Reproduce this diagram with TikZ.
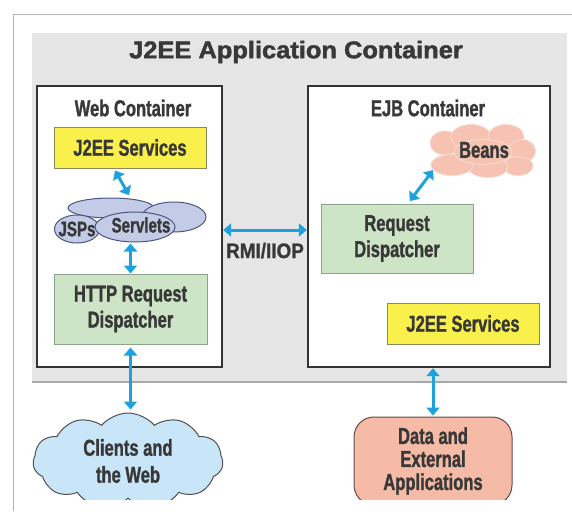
\documentclass[tikz,border=0pt]{standalone}
\usepackage{fontspec}
\setmainfont{Liberation Sans}
\newfontfamily\narrowfont[FakeStretch=0.72,FakeBold=1.2]{Liberation Sans}
\newfontfamily\widefont[FakeStretch=1.06,FakeBold=1.8]{Liberation Sans}
\newfontfamily\midfont[FakeStretch=0.9,FakeBold=1]{Liberation Sans}
\usepackage{xcolor}
\usepackage{tikz}
\usetikzlibrary{positioning,arrows.meta,shapes.geometric,shapes.symbols}

\definecolor{inkgray}{HTML}{383838}
\definecolor{panelgray}{HTML}{E6E6E6}
\definecolor{rulegray}{HTML}{A8A8A8}
\definecolor{framegray}{HTML}{B4B4B4}
\definecolor{boxline}{HTML}{333333}
\definecolor{svcyellow}{HTML}{FAF04C}
\definecolor{svcline}{HTML}{8C8A5A}
\definecolor{dispgreen}{HTML}{CDE5C6}
\definecolor{displine}{HTML}{8BA38A}
\definecolor{complav}{HTML}{C4CBE7}
\definecolor{compline}{HTML}{4C5680}
\definecolor{beanpink}{HTML}{F6C2B2}
\definecolor{cloudblue}{HTML}{C8E6F8}
\definecolor{cloudline}{HTML}{505050}
\definecolor{datasalmon}{HTML}{F5BBA6}
\definecolor{dataline}{HTML}{5E4C4A}
\definecolor{linkblue}{HTML}{1DA1DF}

\begin{document}
\begin{tikzpicture}[x=1pt,y=-1pt,>={Triangle[length=8pt,width=13pt]},text=inkgray,
    font=\narrowfont\bfseries\fontsize{23}{26}\selectfont]
  \tikzstyle{container}=[draw=boxline,line width=2.4pt,fill=white]
  \tikzstyle{service}=[draw=svcline,line width=1pt,fill=svcyellow,minimum width=152pt,minimum height=41pt,inner sep=0pt]
  \tikzstyle{dispatch}=[draw=displine,line width=1pt,fill=dispgreen,minimum width=153pt,minimum height=70pt,inner sep=0pt,align=center]
  \tikzstyle{comp}=[ellipse,draw=compline,line width=1pt,fill=complav,inner sep=0pt]
  \tikzstyle{bean}=[ellipse,draw=white!40!beanpink,line width=0.8pt,fill=beanpink,inner sep=0pt]
  \tikzstyle{link}=[<->,draw=linkblue,line width=3pt]
  \tikzstyle{small}=[font=\narrowfont\bfseries\fontsize{21}{24}\selectfont]

  \useasboundingbox (0,0) rectangle (572,511);

  % page frame and application container
  \draw[line width=0.8pt,draw=framegray] (13,511) -- (13,14) -- (572,14);
  \fill[panelgray] (32,33) rectangle (567,382);
  \draw[line width=1.6pt,draw=rulegray] (32,382) -- (567,382);
  \node[font=\widefont\bfseries\fontsize{24}{28}\selectfont] (title) at (296,52) {J2EE Application Container};

  \node[container,minimum width=185pt,minimum height=281pt] (web) at (129.5,226.5) {};
  \node[container,minimum width=242pt,minimum height=281pt] (ejb) at (429,226.5) {};
  \node (webtitle) at (133,108) {Web Container};
  \node (ejbtitle) at (428,108) {EJB Container};

  % web container
  \node[service] (svcweb) at (130,147.5) {J2EE Services};
  \node[comp,minimum width=86pt,minimum height=20pt] (jback) at (111,208) {};
  \node[comp,minimum width=64pt,minimum height=30pt] (jright) at (174,217) {};
  \node[comp,minimum width=45pt,minimum height=28pt] (jsps) at (77,229) {};
  \node[comp,minimum width=80pt,minimum height=30pt] (servlets) at (135,227) {};
  \node[small] (jspstext) at (77,229) {JSPs};
  \node[small] (servletstext) at (141,225) {Servlets};
  \node[dispatch] (http) at (130.5,309) {HTTP Request\\Dispatcher};

  % ejb container
  \node[bean,minimum width=30pt,minimum height=24pt] (b1) at (445,143) {};
  \node[bean,minimum width=40pt,minimum height=25pt] (b2) at (471,137) {};
  \node[bean,minimum width=36pt,minimum height=25pt] (b3) at (506,137) {};
  \node[bean,minimum width=27pt,minimum height=23pt] (b4) at (522,151) {};
  \node[bean,minimum width=30pt,minimum height=19pt] (b5) at (518,166) {};
  \node[bean,minimum width=40pt,minimum height=21pt] (b6) at (488,167) {};
  \node[bean,minimum width=42pt,minimum height=21pt] (b7) at (452,165) {};
  \node[bean,minimum width=58pt,minimum height=25pt] (b8) at (483,152) {};
  \node (beans) at (484,150) {Beans};
  \node[dispatch,minimum width=152pt,minimum height=69pt] (reqd) at (397,238.5) {Request\\Dispatcher};
  \node[service] (svcejb) at (463,323.5) {J2EE Services};

  % outside the container
  \begin{scope}
    \clip (0,0) rectangle (572,499);
    \node[cloud,draw=cloudline,line width=1pt,fill=cloudblue,cloud puffs=11,cloud puff arc=100,aspect=2,
      minimum width=190pt,minimum height=96pt,inner sep=0pt,align=center,
      font=\narrowfont\bfseries\fontsize{23}{27}\selectfont] (clients) at (128,461) {Clients and\\the Web};
    \node[draw=dataline,line width=1pt,fill=datasalmon,rounded corners=20pt,minimum width=158pt,minimum height=88pt,
      align=center,font=\narrowfont\bfseries\fontsize{23}{23}\selectfont] (data) at (433,461) {Data and\\External\\Applications};
  \end{scope}

  % connectors
  \draw[link,shorten >=4pt] ([xshift=-15pt,yshift=-2pt]svcweb.south) -- (jback.25);
  \draw[link,shorten >=1pt] (http.north) -- (http.north |- servlets.south);
  \draw[link,shorten <=3pt,shorten >=3pt] (http.south) -- (http.south |- clients.north);
  \draw[link] ([yshift=-3.5pt]web.east) -- ([yshift=-3.5pt]ejb.west)
    node[midway,below=8pt,font=\midfont\bfseries\fontsize{21}{24}\selectfont] (rmi) {RMI/IIOP};
  \draw[link,shorten <=3pt] ([xshift=11pt]reqd.north) -- (b7.195);
  \draw[link,shorten >=1pt] (data.north |- ejb.south) -- (data.north);
\end{tikzpicture}
\end{document}
